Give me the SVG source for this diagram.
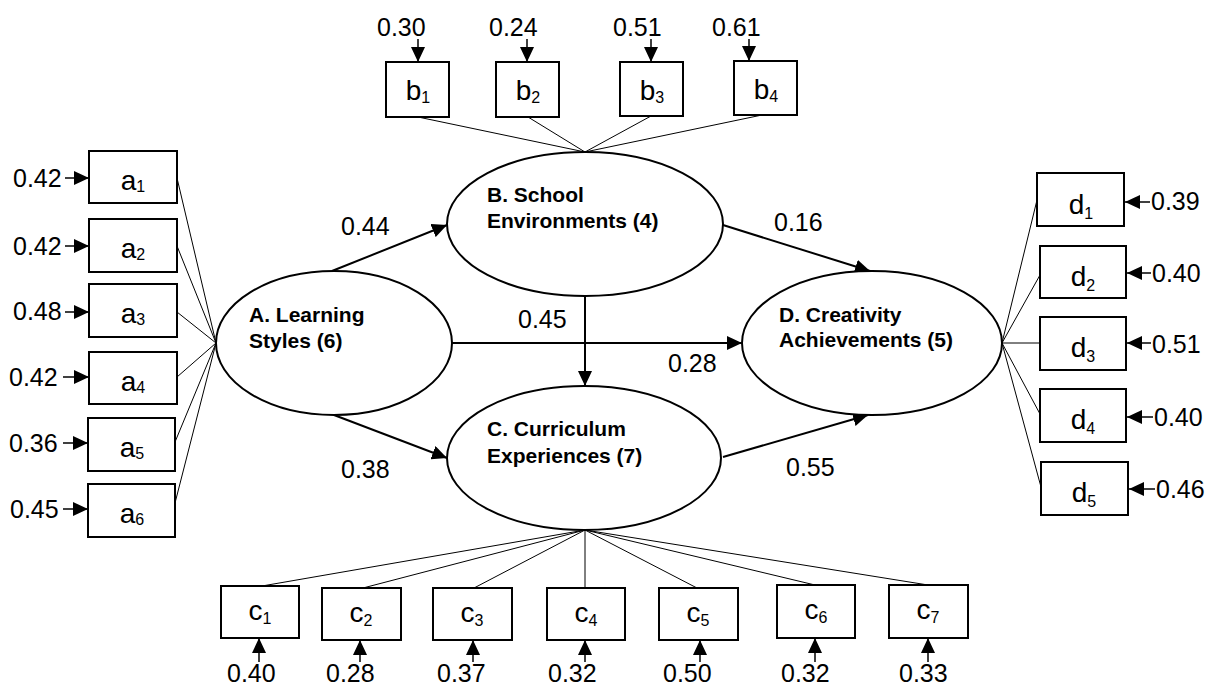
<svg xmlns="http://www.w3.org/2000/svg" width="1208" height="685" viewBox="0 0 1208 685">
<style>
  .bx{fill:#fff;stroke:#000;stroke-width:2}
  .el{fill:#fff;stroke:#000;stroke-width:2}
  .nt{font-family:"Liberation Sans",Arial,sans-serif;font-weight:bold;font-size:21px;fill:#000}
  .lt{font-family:"Liberation Sans",Arial,sans-serif;font-size:28px;fill:#000;text-anchor:middle}
  .sb{font-size:16px}
  .num{font-family:"Liberation Sans",Arial,sans-serif;font-size:25px;fill:#000}
  .fan{stroke:#000;stroke-width:1;fill:none}
  .ar{stroke:#000;stroke-width:2;fill:none;marker-end:url(#ah)}
  .er{stroke:#000;stroke-width:1.5;fill:none;marker-end:url(#ah)}
</style>
<defs>
  <marker id="ah" markerUnits="userSpaceOnUse" markerWidth="15" markerHeight="14" refX="15" refY="7" orient="auto">
    <path d="M0,0 L15,7 L0,14 Z" fill="#000"/>
  </marker>
</defs>
<rect width="1208" height="685" fill="#fff"/>

<g id="connectors">
  <path class="fan" d="M177,178 L216,343 M177,246 L216,343 M177,312 L216,343 M177,377 L216,343 M175,442 L216,343 M175,503 L216,343"/>
  <path class="fan" d="M418,117 L585,152 M528,117 L585,152 M651,116 L585,152 M762,115 L585,152"/>
  <path class="fan" d="M585,530 L262,586 M585,530 L363,588 M585,530 L474,588 M585,530 L585,588 M585,530 L697,588 M585,530 L815,585 M585,530 L928,585"/>
  <path class="fan" d="M1002,343 L1037,200 M1002,343 L1040,275 M1002,343 L1040,343 M1002,343 L1040,414 M1002,343 L1041,487"/>
  <line class="ar" x1="332" y1="271" x2="447" y2="225"/>
  <line class="ar" x1="334" y1="415" x2="447" y2="458"/>
  <line class="ar" x1="452" y1="343" x2="742" y2="343"/>
  <line class="ar" x1="585" y1="296" x2="585" y2="386"/>
  <line class="ar" x1="723" y1="225" x2="870" y2="271"/>
  <line class="ar" x1="723" y1="457" x2="868" y2="415"/>
  <line class="er" x1="65" y1="178" x2="89" y2="178"/>
  <line class="er" x1="65" y1="246" x2="89" y2="246"/>
  <line class="er" x1="65" y1="312" x2="89" y2="312"/>
  <line class="er" x1="63" y1="377" x2="89" y2="377"/>
  <line class="er" x1="63" y1="443" x2="88" y2="443"/>
  <line class="er" x1="63" y1="509" x2="88" y2="509"/>
  <line class="er" x1="418" y1="39" x2="418" y2="62"/>
  <line class="er" x1="527" y1="39" x2="527" y2="62"/>
  <line class="er" x1="651" y1="39" x2="651" y2="62"/>
  <line class="er" x1="749" y1="39" x2="749" y2="61"/>
  <line class="er" x1="259" y1="662" x2="259" y2="638"/>
  <line class="er" x1="360" y1="662" x2="360" y2="640"/>
  <line class="er" x1="473" y1="662" x2="473" y2="640"/>
  <line class="er" x1="585" y1="662" x2="585" y2="640"/>
  <line class="er" x1="700" y1="662" x2="700" y2="640"/>
  <line class="er" x1="815" y1="662" x2="815" y2="638"/>
  <line class="er" x1="928" y1="662" x2="928" y2="638"/>
  <line class="er" x1="1150" y1="202" x2="1125" y2="202"/>
  <line class="er" x1="1151" y1="273" x2="1127" y2="273"/>
  <line class="er" x1="1151" y1="343" x2="1127" y2="343"/>
  <line class="er" x1="1153" y1="417" x2="1127" y2="417"/>
  <line class="er" x1="1155" y1="489" x2="1129" y2="489"/>
</g>

<g id="coefficients">
  <text class="num" x="341" y="235">0.44</text>
  <text class="num" x="518" y="328">0.45</text>
  <text class="num" x="668" y="372">0.28</text>
  <text class="num" x="341" y="478">0.38</text>
  <text class="num" x="774" y="231">0.16</text>
  <text class="num" x="786" y="476">0.55</text>
</g>

<g id="A"><ellipse class="el" cx="334" cy="343" rx="118" ry="72"/>
  <text class="nt" x="249" y="322">A. Learning</text><text class="nt" x="249" y="348">Styles (6)</text></g>
<g id="B"><ellipse class="el" cx="585" cy="224" rx="138" ry="72"/>
  <text class="nt" x="487" y="202">B. School</text><text class="nt" x="487" y="228">Environments (4)</text></g>
<g id="C"><ellipse class="el" cx="584" cy="458" rx="137" ry="72"/>
  <text class="nt" x="487" y="436">C. Curriculum</text><text class="nt" x="487" y="463">Experiences (7)</text></g>
<g id="D"><ellipse class="el" cx="872" cy="343" rx="130" ry="72"/>
  <text class="nt" x="779" y="322">D. Creativity</text><text class="nt" x="779" y="347">Achievements (5)</text></g>

<g id="a1"><rect class="bx" x="89" y="151" width="88" height="52"/><text class="lt" x="133" y="190">a<tspan class="sb" dy="2">1</tspan></text><text class="num" x="13" y="187">0.42</text></g>
<g id="a2"><rect class="bx" x="89" y="219" width="88" height="53"/><text class="lt" x="133" y="258">a<tspan class="sb" dy="2">2</tspan></text><text class="num" x="13" y="255">0.42</text></g>
<g id="a3"><rect class="bx" x="89" y="284" width="88" height="53"/><text class="lt" x="133" y="323">a<tspan class="sb" dy="2">3</tspan></text><text class="num" x="13" y="320">0.48</text></g>
<g id="a4"><rect class="bx" x="89" y="352" width="88" height="52"/><text class="lt" x="133" y="391">a<tspan class="sb" dy="2">4</tspan></text><text class="num" x="9" y="386">0.42</text></g>
<g id="a5"><rect class="bx" x="88" y="418" width="87" height="53"/><text class="lt" x="132" y="457">a<tspan class="sb" dy="2">5</tspan></text><text class="num" x="9" y="452">0.36</text></g>
<g id="a6"><rect class="bx" x="88" y="484" width="87" height="53"/><text class="lt" x="132" y="523">a<tspan class="sb" dy="2">6</tspan></text><text class="num" x="10" y="518">0.45</text></g>

<g id="b1"><rect class="bx" x="386" y="62" width="63" height="55"/><text class="lt" x="418" y="100">b<tspan class="sb" dy="3">1</tspan></text><text class="num" x="377" y="36">0.30</text></g>
<g id="b2"><rect class="bx" x="496" y="62" width="63" height="55"/><text class="lt" x="528" y="100">b<tspan class="sb" dy="3">2</tspan></text><text class="num" x="489" y="36">0.24</text></g>
<g id="b3"><rect class="bx" x="620" y="62" width="63" height="54"/><text class="lt" x="652" y="100">b<tspan class="sb" dy="3">3</tspan></text><text class="num" x="613" y="36">0.51</text></g>
<g id="b4"><rect class="bx" x="734" y="61" width="63" height="54"/><text class="lt" x="766" y="99">b<tspan class="sb" dy="3">4</tspan></text><text class="num" x="712" y="36">0.61</text></g>

<g id="c1"><rect class="bx" x="221" y="586" width="78" height="52"/><text class="lt" x="260" y="620">c<tspan class="sb" dy="4">1</tspan></text><text class="num" x="227" y="682">0.40</text></g>
<g id="c2"><rect class="bx" x="322" y="588" width="79" height="52"/><text class="lt" x="361" y="622">c<tspan class="sb" dy="4">2</tspan></text><text class="num" x="326" y="682">0.28</text></g>
<g id="c3"><rect class="bx" x="433" y="588" width="79" height="52"/><text class="lt" x="472" y="622">c<tspan class="sb" dy="4">3</tspan></text><text class="num" x="437" y="682">0.37</text></g>
<g id="c4"><rect class="bx" x="547" y="588" width="78" height="52"/><text class="lt" x="586" y="622">c<tspan class="sb" dy="4">4</tspan></text><text class="num" x="548" y="682">0.32</text></g>
<g id="c5"><rect class="bx" x="659" y="588" width="79" height="52"/><text class="lt" x="698" y="622">c<tspan class="sb" dy="4">5</tspan></text><text class="num" x="663" y="682">0.50</text></g>
<g id="c6"><rect class="bx" x="777" y="585" width="78" height="53"/><text class="lt" x="816" y="619">c<tspan class="sb" dy="4">6</tspan></text><text class="num" x="781" y="682">0.32</text></g>
<g id="c7"><rect class="bx" x="889" y="585" width="79" height="53"/><text class="lt" x="928" y="619">c<tspan class="sb" dy="4">7</tspan></text><text class="num" x="899" y="682">0.33</text></g>

<g id="d1"><rect class="bx" x="1037" y="173" width="87" height="53"/><text class="lt" x="1081" y="214">d<tspan class="sb" dy="5">1</tspan></text><text class="num" x="1151" y="210">0.39</text></g>
<g id="d2"><rect class="bx" x="1040" y="246" width="86" height="52"/><text class="lt" x="1083" y="286">d<tspan class="sb" dy="5">2</tspan></text><text class="num" x="1152" y="282">0.40</text></g>
<g id="d3"><rect class="bx" x="1040" y="317" width="86" height="53"/><text class="lt" x="1083" y="357">d<tspan class="sb" dy="5">3</tspan></text><text class="num" x="1152" y="353">0.51</text></g>
<g id="d4"><rect class="bx" x="1040" y="389" width="86" height="53"/><text class="lt" x="1083" y="429">d<tspan class="sb" dy="5">4</tspan></text><text class="num" x="1154" y="426">0.40</text></g>
<g id="d5"><rect class="bx" x="1041" y="462" width="87" height="53"/><text class="lt" x="1084" y="502">d<tspan class="sb" dy="5">5</tspan></text><text class="num" x="1156" y="498">0.46</text></g>
</svg>
